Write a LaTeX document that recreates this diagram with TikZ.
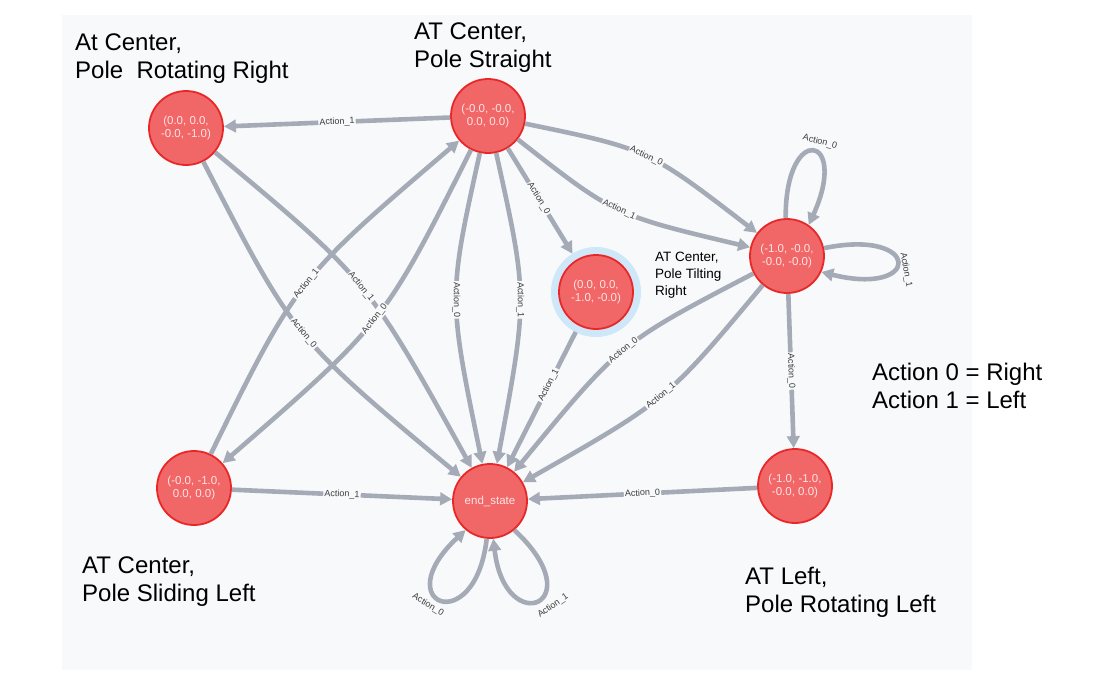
\documentclass[tikz,border=0pt]{standalone}
\usepackage{fontspec}
\setmainfont{Liberation Sans}
\usetikzlibrary{arrows.meta}
\definecolor{panel}{RGB}{248,249,251}
\definecolor{nfill}{RGB}{241,102,103}
\definecolor{nstroke}{RGB}{232,40,40}
\definecolor{ntext}{RGB}{255,228,228}
\definecolor{ecol}{RGB}{165,171,182}
\definecolor{halo}{RGB}{206,232,250}
\definecolor{ltext}{RGB}{60,60,60}
\begin{document}
\begin{tikzpicture}[x=1pt,y=-1pt,
  state/.style={circle,minimum size=74pt,inner sep=0pt,fill=nfill,draw=nstroke,line width=1.8pt,text=ntext,font=\fontsize{11.5}{13.3}\selectfont,align=center},
  rel/.style={draw=ecol,line width=4.6pt,-{Triangle[length=12pt,width=12.5pt]}},
  lab/.style={font=\fontsize{9}{10}\selectfont,text=ltext,fill=panel,inner sep=1.2pt,sloped},
  looplab/.style={font=\fontsize{9}{10}\selectfont,text=ltext,inner sep=1pt},
  big/.style={font=\fontsize{24}{27.6}\selectfont,align=left,inner sep=0pt,anchor=north west},
  small/.style={font=\fontsize{13.5}{17}\selectfont,align=left,inner sep=0pt,anchor=north west}]
\useasboundingbox (0,0) rectangle (1093,678);
\fill[white] (0,0) rectangle (1093,678);
\fill[panel] (62,15) rectangle (972,670);

\node[circle,fill=halo,minimum size=90pt,inner sep=0pt] (Dh) at (596,292) {};
\node[state] (A) at (186,128) {(0.0, 0.0,\\-0.0, -1.0)};
\node[state] (B) at (488,116) {(-0.0, -0.0,\\0.0, 0.0)};
\node[state] (C) at (787,256) {(-1.0, -0.0,\\-0.0, -0.0)};
\node[state] (D) at (596,292) {(0.0, 0.0,\\-1.0, -0.0)};
\node[state] (E) at (194,488) {(-0.0, -1.0,\\0.0, 0.0)};
\node[state] (F) at (490,501) {end\_state};
\node[state] (G) at (795,486) {(-1.0, -1.0,\\-0.0, 0.0)};

\draw[rel] (B) -- node[lab]{Action\_1} (A);
\draw[rel] (B) .. controls (648,149) .. node[lab]{Action\_0} (C);
\draw[rel] (B) .. controls (614,215) .. node[lab]{Action\_1} (C);
\draw[rel,shorten >=7pt] (B) -- node[lab,pos=0.45]{Action\_0} (D);
\draw[rel] (B) .. controls (448,297) .. node[lab]{Action\_0} (F);
\draw[rel] (B) .. controls (528,297) .. node[lab]{Action\_1} (F);
\draw[rel] (A) .. controls (367,279) .. node[lab]{Action\_1} (F);
\draw[rel] (A) .. controls (294,338) .. node[lab]{Action\_0} (F);
\draw[rel] (E) .. controls (297,279) .. node[lab]{Action\_1} (B);
\draw[rel] (B) .. controls (384,323) .. node[lab]{Action\_0} (E);
\draw[rel] (C) .. controls (620,343) .. node[lab]{Action\_0} (F);
\draw[rel] (C) .. controls (667,400) .. node[lab]{Action\_1} (F);
\draw[rel,shorten <=7pt] (D) -- node[lab,pos=0.42]{Action\_1} (F);
\draw[rel] (C) -- node[lab]{Action\_0} (G);
\draw[rel] (G) -- node[lab]{Action\_0} (F);
\draw[rel] (E) -- node[lab]{Action\_1} (F);

\draw[rel] (C.92) .. controls (785,122) and (850,134) .. (C.55);
\node[looplab,rotate=-15] (lc0) at (820,142) {Action\_0};
\draw[rel] (C.12) .. controls (922,228) and (922,297) .. (C.-25);
\node[looplab,rotate=-80] (lc1) at (906,270) {Action\_1};
\draw[rel] (F.-95) .. controls (475,640) and (386,604) .. (F.-130);
\node[looplab,rotate=-32] (lf0) at (428,605) {Action\_0};
\draw[rel] (F.-50) .. controls (594,604) and (505,640) .. (F.-85);
\node[looplab,rotate=35] (lf1) at (553,606) {Action\_1};

\node[big] (t1) at (75,34) {At Center,\\Pole~~Rotating Right};
\node[big] (t2) at (414,23) {AT Center,\\Pole Straight};
\node[small] (t3) at (655,252) {AT Center,\\Pole Tilting\\Right};
\node[big] (t4) at (872,363) {Action 0 = Right\\Action 1 = Left};
\node[big] (t5) at (82,557) {AT Center,\\Pole Sliding Left};
\node[big] (t6) at (745,567) {AT Left,\\Pole Rotating Left};
\end{tikzpicture}
\end{document}
